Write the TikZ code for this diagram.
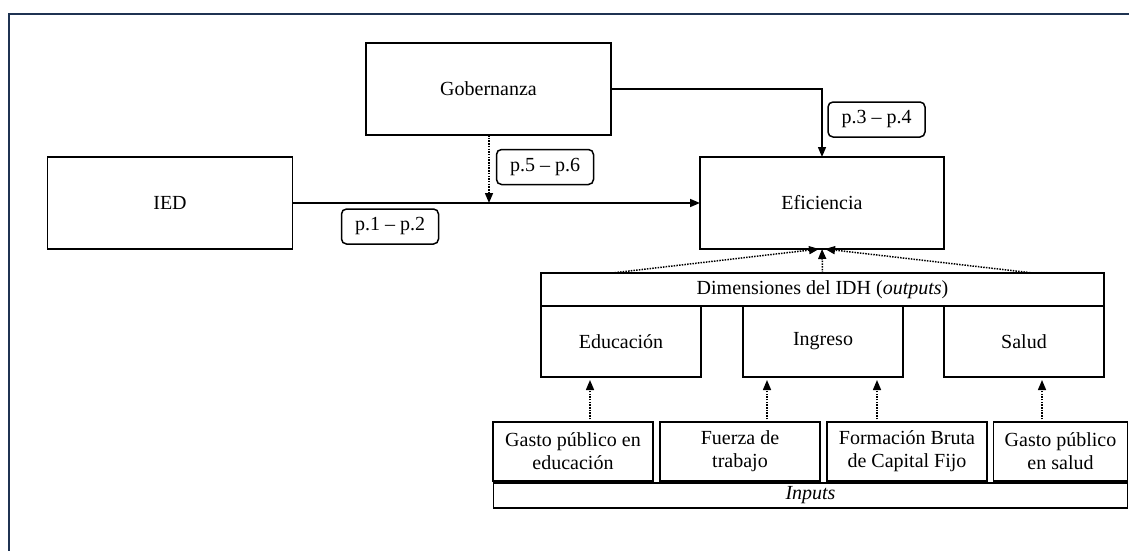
\documentclass[tikz,border=0pt]{standalone}
\usepackage{fontspec}
\setmainfont{Liberation Serif}
\usetikzlibrary{arrows.meta,calc}
\definecolor{navy}{HTML}{1F3352}
\begin{document}
\begin{tikzpicture}[x=1pt,y=-1pt,
  font=\fontsize{20}{23}\selectfont,
  box/.style={draw,line width=1.6pt,inner sep=0pt,outer sep=0pt,align=center},
  lab/.style={draw,line width=1.5pt,rounded corners=5pt,inner sep=0pt,outer sep=0pt,minimum width=97pt,minimum height=35pt},
  solarr/.style={line width=1.5pt,-{Triangle[length=10pt,width=8pt]}},
  dotarr/.style={line width=1.5pt,dash pattern=on 1.5pt off 1.2pt,-{Triangle[length=10pt,width=8pt]}}
]
\useasboundingbox (0,0) rectangle (1129,551);
\draw[navy,line width=2pt] (9,551) -- (9,14) -- (1129,14);

\node[box,minimum width=245pt,minimum height=92pt] (gob) at (488.5,89) {Gobernanza};
\node[box,minimum width=245pt,minimum height=92pt] (ied) at (170,203) {IED};
\node[box,minimum width=244pt,minimum height=92pt] (efi) at (822,203) {Eficiencia};

\node[box,minimum width=563pt,minimum height=33pt] (dim) at (822.5,289.5) {Dimensiones del IDH (\textit{outputs})};
\node[box,minimum width=160pt,minimum height=71pt] (edu) at (621,341.5) {Educación};
\node[box,minimum width=160pt,minimum height=71pt] (ing) at (823,341.5) {Ingreso};
\node[box,minimum width=160pt,minimum height=71pt] (sal) at (1024,341.5) {Salud};

\node[box,minimum width=160pt,minimum height=59pt] (ge) at (573,451.5) {Gasto público en\\educación};
\node[box,minimum width=160pt,minimum height=59pt] (ft) at (740,451.5) {Fuerza de\\trabajo};
\node[box,minimum width=160pt,minimum height=59pt] (fb) at (907,451.5) {Formación Bruta\\de Capital Fijo};
\node[box,minimum width=134pt,minimum height=59pt] (gs) at (1060.5,451.5) {Gasto público\\en salud};
\node[box,minimum width=634pt,minimum height=25pt] (inp) at (810.5,495.5) {\textit{Inputs}};

\node[lab] (l34) at (876.5,119.5) {p.3 – p.4};
\node[lab] (l56) at (545,167) {p.5 – p.6};
\node[lab] (l12) at (390,226.5) {p.1 – p.2};

\coordinate (m) at (489,203);
\coordinate (a1) at (590,0);
\coordinate (a2) at (767,0);
\coordinate (a3) at (877,0);
\coordinate (a4) at (1042,0);
\coordinate (d1) at (612,0);
\coordinate (d3) at (1033,0);

\draw[solarr] (ied.east) -- (efi.west);
\draw[solarr] (gob.east) -| (efi.north);
\draw[dotarr] (gob.south -| m) -- (m);

\draw[dotarr] (dim.north -| d1) -- ([xshift=-3pt]efi.south);
\draw[dotarr] (dim.north) -- (efi.south);
\draw[dotarr] (dim.north -| d3) -- ([xshift=3pt]efi.south);

\draw[dotarr,shorten >=3pt] (ge.north -| a1) -- (edu.south -| a1);
\draw[dotarr,shorten >=3pt] (ft.north -| a2) -- (ing.south -| a2);
\draw[dotarr,shorten >=3pt] (fb.north -| a3) -- (ing.south -| a3);
\draw[dotarr,shorten >=3pt] (gs.north -| a4) -- (sal.south -| a4);
\end{tikzpicture}
\end{document}
